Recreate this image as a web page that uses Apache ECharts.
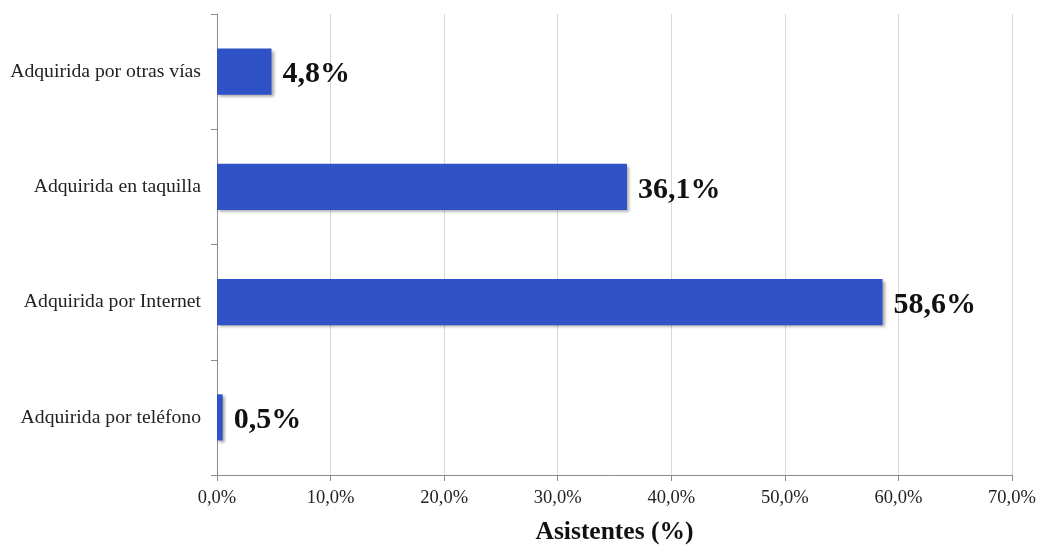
<!DOCTYPE html>
<html>
<head>
<meta charset="utf-8">
<script src="https://cdn.jsdelivr.net/npm/echarts@6/dist/echarts.min.js"></script>
<style>
  html, body { margin: 0; padding: 0; background: #fff; }
  #chart { width: 1040px; height: 545px; }
</style>
</head>
<body>
<div id="chart"></div>
<script>
// Ticket purchase channel, top to bottom
const categories = [
  'Adquirida por otras vías',
  'Adquirida en taquilla',
  'Adquirida por Internet',
  'Adquirida por teléfono'
];
const shares = [4.8, 36.1, 58.6, 0.5];
const axisMax = 70;
const axisStep = 10;
const axisTitle = 'Asistentes (%)';

const fmt = v => v.toFixed(1).replace('.', ',') + '%';
const serif = '"Liberation Serif", "DejaVu Serif", serif';

const chart = echarts.init(document.getElementById('chart'));
chart.setOption({
  animation: false,
  textStyle: { fontFamily: serif },
  grid: { left: 217, right: 28, top: 14, bottom: 70, containLabel: false, outerBoundsMode: 'none' },
  xAxis: {
    type: 'value',
    min: 0,
    max: axisMax,
    interval: axisStep,
    name: axisTitle,
    nameLocation: 'middle',
    nameGap: 44,
    nameTextStyle: { fontFamily: serif, fontSize: 25.5, fontWeight: 'bold', color: '#111' },
    axisLine: { show: true, lineStyle: { color: '#8c8c8c', width: 1 } },
    axisTick: { show: true, length: 6, lineStyle: { color: '#8c8c8c' } },
    axisLabel: { fontFamily: serif, fontSize: 18.5, color: '#222', margin: 14, formatter: v => fmt(v) },
    splitLine: { show: true, lineStyle: { color: '#d9d9d9', width: 1 } }
  },
  yAxis: {
    type: 'category',
    data: categories,
    inverse: true,
    axisLine: { show: true, lineStyle: { color: '#8c8c8c', width: 1 } },
    axisTick: { show: true, length: 6, alignWithLabel: false, lineStyle: { color: '#8c8c8c' } },
    axisLabel: { fontFamily: serif, fontSize: 19.7, color: '#222', margin: 16, padding: [5, 0, 0, 0] },
    splitLine: { show: false }
  },
  series: [{
    type: 'bar',
    data: shares,
    barWidth: '40%',
    itemStyle: {
      color: '#2f52c6',
      shadowColor: 'rgba(0,0,0,0.35)',
      shadowBlur: 3,
      shadowOffsetX: 2,
      shadowOffsetY: 2
    },
    label: {
      show: true,
      position: 'right',
      distance: 11,
      offset: [0, 3],
      fontFamily: serif,
      fontSize: 30,
      fontWeight: 'bold',
      color: '#111',
      formatter: p => fmt(p.value)
    }
  }]
});
</script>
</body>
</html>
